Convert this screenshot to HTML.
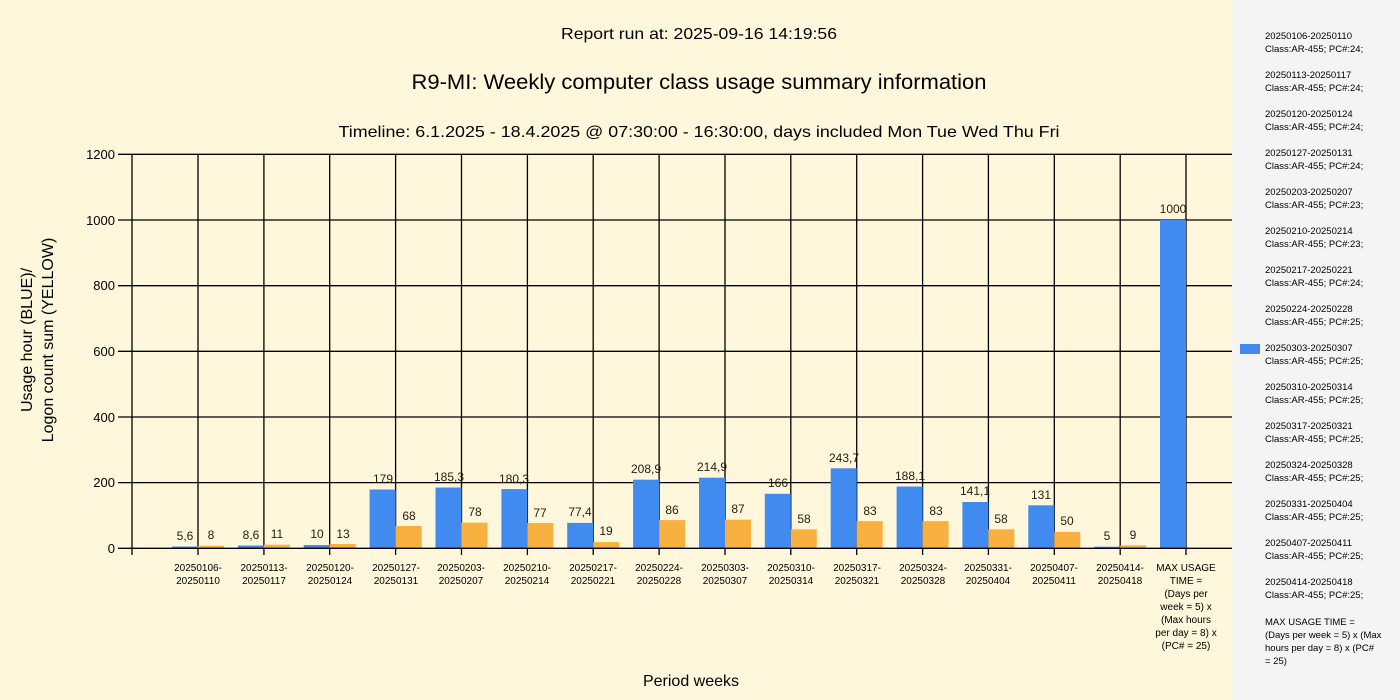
<!DOCTYPE html>
<html><head><meta charset="utf-8"><style>
html,body{margin:0;padding:0;width:1400px;height:700px;overflow:hidden;background:#fef7dc}
svg{display:block;font-family:"Liberation Sans","DejaVu Sans",sans-serif}
</style></head><body>
<svg width="1400" height="700" viewBox="0 0 1400 700" xmlns="http://www.w3.org/2000/svg">
<rect width="1400" height="700" fill="#fef7dc"/>
<rect x="1232" y="0" width="168" height="700" fill="#f4f4f4"/>
<g fill="#000" text-anchor="middle">
<text x="699" y="39" font-size="16" textLength="276" lengthAdjust="spacingAndGlyphs">Report run at: 2025-09-16 14:19:56</text>
<text x="699" y="89" font-size="21" textLength="575" lengthAdjust="spacingAndGlyphs">R9-MI: Weekly computer class usage summary information</text>
<text x="699" y="137" font-size="16" textLength="721" lengthAdjust="spacingAndGlyphs">Timeline:  6.1.2025  - 18.4.2025 @  07:30:00 -  16:30:00, days included Mon Tue Wed Thu Fri</text>
<text x="691" y="686" font-size="16">Period weeks</text>
<text transform="translate(32,340) rotate(-90)" font-size="16">Usage hour (BLUE)/</text>
<text transform="translate(53,340) rotate(-90)" font-size="16">Logon count sum (YELLOW)</text>
</g>
<g stroke="#000" stroke-width="1.3">
<line x1="118" y1="154.3" x2="1232" y2="154.3"/>
<line x1="118" y1="220" x2="1232" y2="220"/>
<line x1="118" y1="285.7" x2="1232" y2="285.7"/>
<line x1="118" y1="351.3" x2="1232" y2="351.3"/>
<line x1="118" y1="417" x2="1232" y2="417"/>
<line x1="118" y1="482.6" x2="1232" y2="482.6"/>
<line x1="132" y1="154" x2="132" y2="555"/>
<line x1="198" y1="154" x2="198" y2="555"/>
<line x1="263.9" y1="154" x2="263.9" y2="555"/>
<line x1="329.7" y1="154" x2="329.7" y2="555"/>
<line x1="395.6" y1="154" x2="395.6" y2="555"/>
<line x1="461.5" y1="154" x2="461.5" y2="555"/>
<line x1="527.4" y1="154" x2="527.4" y2="555"/>
<line x1="593.2" y1="154" x2="593.2" y2="555"/>
<line x1="659.1" y1="154" x2="659.1" y2="555"/>
<line x1="725" y1="154" x2="725" y2="555"/>
<line x1="790.8" y1="154" x2="790.8" y2="555"/>
<line x1="856.7" y1="154" x2="856.7" y2="555"/>
<line x1="922.6" y1="154" x2="922.6" y2="555"/>
<line x1="988.4" y1="154" x2="988.4" y2="555"/>
<line x1="1054.3" y1="154" x2="1054.3" y2="555"/>
<line x1="1120.2" y1="154" x2="1120.2" y2="555"/>
<line x1="1186" y1="154" x2="1186" y2="555"/>
</g>
<g fill="#000" font-size="13" text-anchor="end">
<text x="115" y="159">1200</text><text x="115" y="225">1000</text><text x="115" y="290">800</text>
<text x="115" y="356">600</text><text x="115" y="422">400</text><text x="115" y="487">200</text><text x="115" y="553">0</text>
</g>
<g fill="#418af0">
<rect x="172" y="546.5" width="26" height="1.8"/>
<rect x="237.9" y="545.5" width="26" height="2.8"/>
<rect x="303.7" y="545" width="26" height="3.3"/>
<rect x="369.6" y="489.5" width="26" height="58.8"/>
<rect x="435.5" y="487.5" width="26" height="60.8"/>
<rect x="501.4" y="489.1" width="26" height="59.2"/>
<rect x="567.2" y="522.9" width="26" height="25.4"/>
<rect x="633.1" y="479.7" width="26" height="68.6"/>
<rect x="699" y="477.7" width="26" height="70.6"/>
<rect x="764.8" y="493.8" width="26" height="54.5"/>
<rect x="830.7" y="468.3" width="26" height="80"/>
<rect x="896.6" y="486.5" width="26" height="61.8"/>
<rect x="962.4" y="502" width="26" height="46.3"/>
<rect x="1028.3" y="505.3" width="26" height="43"/>
<rect x="1094.2" y="546.7" width="26" height="1.6"/>
<rect x="1160" y="220" width="26" height="328.3"/>
</g>
<g fill="#f8b140">
<rect x="198" y="545.7" width="26" height="2.6"/>
<rect x="263.9" y="544.7" width="26" height="3.6"/>
<rect x="329.7" y="544" width="26" height="4.3"/>
<rect x="395.6" y="526" width="26" height="22.3"/>
<rect x="461.5" y="522.7" width="26" height="25.6"/>
<rect x="527.4" y="523" width="26" height="25.3"/>
<rect x="593.2" y="542.1" width="26" height="6.2"/>
<rect x="659.1" y="520.1" width="26" height="28.2"/>
<rect x="725" y="519.7" width="26" height="28.6"/>
<rect x="790.8" y="529.3" width="26" height="19"/>
<rect x="856.7" y="521.1" width="26" height="27.2"/>
<rect x="922.6" y="521.1" width="26" height="27.2"/>
<rect x="988.4" y="529.3" width="26" height="19"/>
<rect x="1054.3" y="531.9" width="26" height="16.4"/>
<rect x="1120.2" y="545.3" width="26" height="3"/>
</g>
<line x1="118" y1="548.3" x2="1232" y2="548.3" stroke="#000" stroke-width="1.3"/>
<g fill="#2a1a10" font-size="12" text-anchor="middle">
<text x="185" y="540">5,6</text><text x="211" y="539">8</text>
<text x="251" y="539">8,6</text><text x="277" y="538">11</text>
<text x="317" y="538">10</text><text x="343" y="538">13</text>
<text x="383" y="483">179</text><text x="409" y="520">68</text>
<text x="449" y="481">185,3</text><text x="475" y="516">78</text>
<text x="514" y="483">180,3</text><text x="540" y="517">77</text>
<text x="580" y="516">77,4</text><text x="606" y="535">19</text>
<text x="646" y="473">208,9</text><text x="672" y="514">86</text>
<text x="712" y="471">214,9</text><text x="738" y="513">87</text>
<text x="778" y="487">166</text><text x="804" y="523">58</text>
<text x="844" y="462">243,7</text><text x="870" y="515">83</text>
<text x="910" y="480">188,1</text><text x="936" y="515">83</text>
<text x="975" y="495">141,1</text><text x="1001" y="523">58</text>
<text x="1041" y="499">131</text><text x="1067" y="525">50</text>
<text x="1107" y="540">5</text><text x="1133" y="539">9</text>
<text x="1173" y="213">1000</text>
</g>
<g fill="#000" font-size="10" text-anchor="middle">
<text x="198" y="571">20250106-</text><text x="198" y="584">20250110</text>
<text x="264" y="571">20250113-</text><text x="264" y="584">20250117</text>
<text x="330" y="571">20250120-</text><text x="330" y="584">20250124</text>
<text x="396" y="571">20250127-</text><text x="396" y="584">20250131</text>
<text x="461" y="571">20250203-</text><text x="461" y="584">20250207</text>
<text x="527" y="571">20250210-</text><text x="527" y="584">20250214</text>
<text x="593" y="571">20250217-</text><text x="593" y="584">20250221</text>
<text x="659" y="571">20250224-</text><text x="659" y="584">20250228</text>
<text x="725" y="571">20250303-</text><text x="725" y="584">20250307</text>
<text x="791" y="571">20250310-</text><text x="791" y="584">20250314</text>
<text x="857" y="571">20250317-</text><text x="857" y="584">20250321</text>
<text x="923" y="571">20250324-</text><text x="923" y="584">20250328</text>
<text x="988" y="571">20250331-</text><text x="988" y="584">20250404</text>
<text x="1054" y="571">20250407-</text><text x="1054" y="584">20250411</text>
<text x="1120" y="571">20250414-</text><text x="1120" y="584">20250418</text>
<text x="1186" y="571">MAX USAGE</text><text x="1186" y="584">TIME =</text>
<text x="1186" y="597">(Days per</text><text x="1186" y="610">week = 5) x</text>
<text x="1186" y="623">(Max hours</text><text x="1186" y="636">per day = 8) x</text>
<text x="1186" y="649">(PC# = 25)</text>
</g>
<rect x="1240" y="344" width="20" height="10" fill="#418af0"/>
<g fill="#000" font-size="9.5">
<text x="1265" y="39">20250106-20250110</text><text x="1265" y="52">Class:AR-455; PC#:24;</text>
<text x="1265" y="78">20250113-20250117</text><text x="1265" y="91">Class:AR-455; PC#:24;</text>
<text x="1265" y="117">20250120-20250124</text><text x="1265" y="130">Class:AR-455; PC#:24;</text>
<text x="1265" y="156">20250127-20250131</text><text x="1265" y="169">Class:AR-455; PC#:24;</text>
<text x="1265" y="195">20250203-20250207</text><text x="1265" y="208">Class:AR-455; PC#:23;</text>
<text x="1265" y="234">20250210-20250214</text><text x="1265" y="247">Class:AR-455; PC#:23;</text>
<text x="1265" y="273">20250217-20250221</text><text x="1265" y="286">Class:AR-455; PC#:24;</text>
<text x="1265" y="312">20250224-20250228</text><text x="1265" y="325">Class:AR-455; PC#:25;</text>
<text x="1265" y="351">20250303-20250307</text><text x="1265" y="364">Class:AR-455; PC#:25;</text>
<text x="1265" y="390">20250310-20250314</text><text x="1265" y="403">Class:AR-455; PC#:25;</text>
<text x="1265" y="429">20250317-20250321</text><text x="1265" y="442">Class:AR-455; PC#:25;</text>
<text x="1265" y="468">20250324-20250328</text><text x="1265" y="481">Class:AR-455; PC#:25;</text>
<text x="1265" y="507">20250331-20250404</text><text x="1265" y="520">Class:AR-455; PC#:25;</text>
<text x="1265" y="546">20250407-20250411</text><text x="1265" y="559">Class:AR-455; PC#:25;</text>
<text x="1265" y="585">20250414-20250418</text><text x="1265" y="598">Class:AR-455; PC#:25;</text>
<text x="1265" y="625">MAX USAGE TIME =</text>
<text x="1265" y="638"> (Days per week = 5) x (Max</text>
<text x="1265" y="651">hours per day = 8) x (PC#</text>
<text x="1265" y="664">= 25)</text>
</g>
</svg>
</body></html>
